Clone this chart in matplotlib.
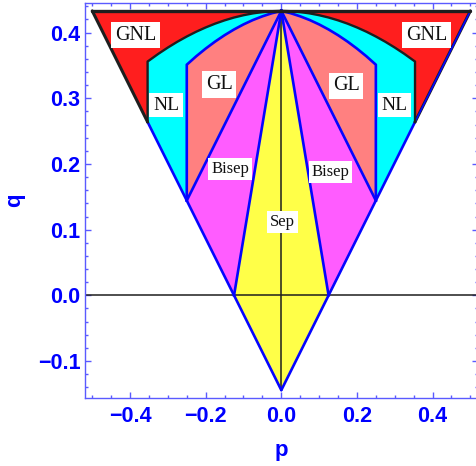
import matplotlib
matplotlib.use("Agg")
import matplotlib.pyplot as plt
from matplotlib.ticker import MultipleLocator
import numpy as np

# Corners of the outer triangle in the (p, q) plane
apex_q = 0.4330          # top edge, q = sqrt(3)/4
base_q = -0.1443         # lower vertex at p = 0
half_width = 0.5         # top corners at p = +-0.5
sep_p = 0.125            # Sep/Bisep boundary meets q = 0
gl_p = 0.25              # GL/NL vertical boundary
gl_low_q = 0.1443        # where p = 0.25 meets the outer side
nl_p = 0.3536            # NL/GNL vertical boundary
nl_low_q = 0.2639        # where p = 0.3536 meets the outer side

# Upper GL boundary (right half; mirrored for p < 0)
gl_curve_p = [0.0, 0.025, 0.05, 0.075, 0.1, 0.125, 0.15, 0.175, 0.2, 0.225, 0.25]
gl_curve_q = [0.4330, 0.4294, 0.4247, 0.4191, 0.4124, 0.4047, 0.3960, 0.3863,
              0.3756, 0.3639, 0.3511]

# Upper NL boundary (right half; mirrored for p < 0)
nl_curve_p = [0.0, 0.025, 0.05, 0.075, 0.1, 0.125, 0.15, 0.175, 0.2, 0.225,
              0.25, 0.275, 0.3, 0.325, 0.3536]
nl_curve_q = [0.4330, 0.4325, 0.4312, 0.4292, 0.4264, 0.4229, 0.4186, 0.4136,
              0.4078, 0.4013, 0.3940, 0.3860, 0.3772, 0.3677, 0.3559]

# Region labels
region_names = ["GNL", "GNL", "NL", "NL", "GL", "GL", "Bisep", "Bisep", "Sep"]
label_p = [-0.386, 0.384, -0.305, 0.300, -0.164, 0.172, -0.135, 0.130, 0.003]
label_q = [0.396, 0.396, 0.289, 0.289, 0.321, 0.319, 0.193, 0.188, 0.112]
label_size = [14.5, 14.5, 14, 14, 14.5, 14.5, 12, 12, 12]

x_ticks = [-0.4, -0.2, 0.0, 0.2, 0.4]
y_ticks = [-0.1, 0.0, 0.1, 0.2, 0.3, 0.4]

RED = "#ff1e1e"
CYAN = "#00ffff"
SALMON = "#ff8080"
MAGENTA = "#ff5cff"
YELLOW = "#ffff48"
BLUE = "#0505ff"
FRAME = "#5a5aff"
INK = "#1e1e1e"

fig = plt.figure(figsize=(4.77, 4.66), dpi=100)
ax = fig.add_axes([0.1775, 0.1466, 0.8245, 0.8464])

gcp = np.array(gl_curve_p)
gcq = np.array(gl_curve_q)
ncp = np.array(nl_curve_p)
ncq = np.array(nl_curve_q)

for s in (1, -1):
    # GNL
    px = np.concatenate([[0, s * half_width, s * nl_p], s * ncp[::-1]])
    py = np.concatenate([[apex_q, apex_q, nl_low_q], ncq[::-1]])
    ax.fill(px, py, color=RED, lw=0, zorder=1)
    # NL
    px = np.concatenate([s * ncp, [s * nl_p, s * gl_p], s * gcp[::-1]])
    py = np.concatenate([ncq, [nl_low_q, gl_low_q], gcq[::-1]])
    ax.fill(px, py, color=CYAN, lw=0, zorder=1)
    # GL
    px = np.concatenate([s * gcp, [s * gl_p]])
    py = np.concatenate([gcq, [gl_low_q]])
    ax.fill(px, py, color=SALMON, lw=0, zorder=1)
    # Bisep
    ax.fill([0, s * gl_p, s * sep_p], [apex_q, gl_low_q, 0], color=MAGENTA,
            lw=0, zorder=1)

# Sep
ax.fill([0, sep_p, 0, -sep_p], [apex_q, 0, base_q, 0], color=YELLOW, lw=0, zorder=1)

lw_b = 1.9
for s in (1, -1):
    # outer side (blue), upper part along GNL darkened
    ax.plot([0, s * nl_p], [base_q, nl_low_q], color=BLUE, lw=lw_b, zorder=3,
            solid_capstyle="round")
    ax.plot([s * nl_p, s * half_width], [nl_low_q, apex_q], color=INK, lw=2.2,
            zorder=3, solid_capstyle="round")
    if s > 0:
        ax.plot([s * nl_p, s * half_width], [nl_low_q, apex_q], color=BLUE,
                lw=1.2, zorder=3)
    # Sep / Bisep
    ax.plot([0, s * sep_p], [apex_q, 0], color=BLUE, lw=lw_b, zorder=3)
    # Bisep / GL
    ax.plot([0, s * gl_p], [apex_q, gl_low_q], color=BLUE, lw=lw_b, zorder=3)
    # GL / NL
    ax.plot(np.concatenate([s * gcp, [s * gl_p]]),
            np.concatenate([gcq, [gl_low_q]]), color=BLUE, lw=lw_b, zorder=3)
    # NL / GNL
    ax.plot(np.concatenate([s * ncp, [s * nl_p]]),
            np.concatenate([ncq, [nl_low_q]]), color=INK, lw=1.7, zorder=3)

# top edge
ax.plot([-half_width, half_width], [apex_q, apex_q], color=INK, lw=2.4, zorder=4,
        solid_capstyle="round")

# axes through the origin
ax.axhline(0, color=INK, lw=1.1, zorder=2)
ax.plot([0, 0], [base_q, apex_q], color=INK, lw=1.1, zorder=2)

for name, x, y, fs in zip(region_names, label_p, label_q, label_size):
    ax.text(x, y, name, ha="center", va="center", fontsize=fs,
            family="Liberation Serif", color="#111111", zorder=5,
            bbox=dict(boxstyle="square,pad=0.18", fc="white", ec="none"))

ax.set_xlim(-0.52, 0.52)
ax.set_ylim(-0.1558, 0.4446)
ax.set_xticks(x_ticks)
ax.set_yticks(y_ticks)
ax.set_xticklabels([f"{v:.1f}".replace("-", "\u2212") for v in x_ticks])
ax.set_yticklabels([f"{v:.1f}".replace("-", "\u2212") for v in y_ticks])
ax.xaxis.set_minor_locator(MultipleLocator(0.05))
ax.yaxis.set_minor_locator(MultipleLocator(0.02))
ax.tick_params(which="both", direction="in", top=True, right=True, color=FRAME,
               width=1.0)
ax.tick_params(which="major", length=4.5)
ax.tick_params(which="minor", length=2.5)
ax.tick_params(axis="x", pad=6)
ax.tick_params(axis="y", pad=3)
for lab in ax.get_xticklabels() + ax.get_yticklabels():
    lab.set_fontsize(15.5)
    lab.set_fontweight("bold")
    lab.set_color("#0000ff")
    lab.set_family("Liberation Sans")
for sp in ax.spines.values():
    sp.set_color(FRAME)
    sp.set_linewidth(1.0)

ax.set_xlabel("p", fontsize=16, fontweight="bold", color="#0000ff",
              family="Liberation Sans", labelpad=9)
ax.set_ylabel("q", fontsize=16, fontweight="bold", color="#0000ff",
              family="Liberation Sans", labelpad=9)

fig.savefig("out.png", dpi=100)
